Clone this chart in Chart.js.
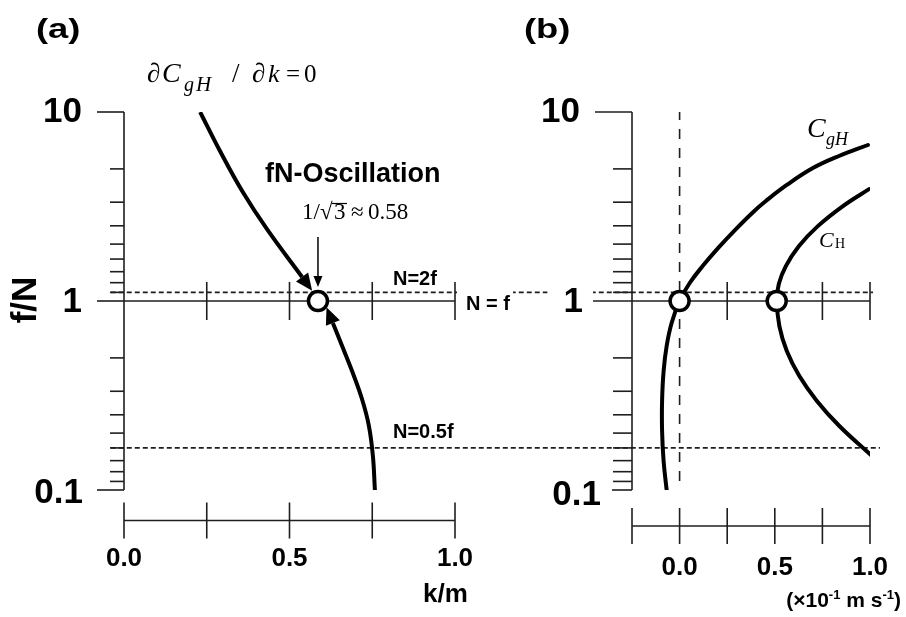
<!DOCTYPE html>
<html>
<head>
<meta charset="utf-8">
<script src="https://cdn.jsdelivr.net/npm/chart.js@4.4.1/dist/chart.umd.min.js"></script>
<style>
  html, body { margin: 0; padding: 0; background: #fff; }
  #wrap { position: relative; width: 906px; height: 617px; }
  #wrap canvas { position: absolute; left: 0; top: 0; }
</style>
</head>
<body>
<div id="wrap">
  <canvas id="panelA" width="906" height="617"></canvas>
  <canvas id="panelB" width="906" height="617"></canvas>
</div>
<script>
// f/N axis (shared by both panels)
const fTicksMajor = [0.1, 1, 10];
const fTickLabels = ['0.1', '1', '10'];
const fTicksMinor = [0.111, 0.125, 0.143, 0.167, 0.2, 0.25, 0.333, 0.5,
                     1.111, 1.25, 1.429, 1.667, 2, 2.5, 3.333, 5];

// (a) k/m axis
const kTicks = [0, 0.25, 0.5, 0.75, 1];
const kLabelValues = [0, 0.5, 1];
const kLabels = ['0.0', '0.5', '1.0'];
const kCross = [0.25, 0.5, 0.75, 1];

// (a) dCgH/dk = 0 curve, two branches running into the fN point
const upperK = [0.23, 0.29, 0.357, 0.432, 0.538];
const upperF = [10, 6.22, 3.82, 2.40, 1.34];
const lowerK = [0.758, 0.752, 0.740, 0.719, 0.689, 0.659, 0.631];
const lowerF = [0.1, 0.151, 0.218, 0.303, 0.426, 0.578, 0.765];
const fnPointK = [0.586];
const fnPointF = [1];

// reference lines (f/N levels and their extent in k)
const unityK = [0, 1];
const n2fLevel = 1.111;
const n2fK = [-0.04, 2.263];
const nHalfLevel = 0.167;
const nHalfK = [-0.04, 2.284];

// (b) speed axis (x10^-1 m/s)
const cTicks = [-0.25, 0, 0.25, 0.5, 0.75, 1];
const cLabelValues = [0, 0.5, 1];
const cLabels = ['0.0', '0.5', '1.0'];
const cCross = [0.25, 0.75, 1];

// (b) group velocity CgH and phase speed CH
const cghC = [-0.068, -0.084, -0.092, -0.092, -0.084, -0.068, -0.042, 0, 0.053, 0.121,
              0.203, 0.292, 0.387, 0.453, 0.563, 0.70, 0.837, 0.989];
const cghF = [0.1, 0.142, 0.205, 0.296, 0.426, 0.578, 0.765, 1, 1.245, 1.53,
              1.91, 2.38, 2.96, 3.38, 4.11, 5.05, 5.85, 6.69];
const chC = [0.995, 0.858, 0.726, 0.626, 0.558, 0.521, 0.511, 0.524, 0.563, 0.629, 0.721, 0.839, 1.005];
const chF = [3.91, 3.18, 2.49, 1.95, 1.53, 1.23, 1.0, 0.737, 0.544, 0.401, 0.296, 0.218, 0.153];
const crossC = [0, 0.51];
const crossF = [1, 1];
const unityC = [-0.25, 1];
const zeroLineC = [0, 0];
const zeroLineF = [0.1116, 10];

const SANS = '"Liberation Sans", Arial, sans-serif';
const SERIF = '"Liberation Serif", "Times New Roman", serif';
const AXIS = '#1e1e1e';

function pts(xs, ys) {
    return xs.map((x, i) => ({ x: x, y: ys[i] }));
}

function seg(ctx, x1, y1, x2, y2) {
    ctx.beginPath();
    ctx.moveTo(x1, y1);
    ctx.lineTo(x2, y2);
    ctx.stroke();
}

function arrowHead(ctx, bx, by, ux, uy, len, wid) {
    const px = -uy, py = ux;
    ctx.beginPath();
    ctx.moveTo(bx + ux * len, by + uy * len);
    ctx.lineTo(bx + px * wid / 2, by + py * wid / 2);
    ctx.lineTo(bx - px * wid / 2, by - py * wid / 2);
    ctx.closePath();
    ctx.fill();
}

// per panel axis styling
const panelStyle = {
    panelA: { ticks: kTicks, labelValues: kLabelValues, labels: kLabels, cross: kCross,
              majorLen: [27, 27, 27], minorLen: 14, labelGap: [14, 15, 15], labelShift: [3, 1, 0],
              xAxisGap: 30.5, tickHalf: 18, xLabelBase: 45, crossHalf: 19, mask: false },
    panelB: { ticks: cTicks, labelValues: cLabelValues, labels: cLabels, cross: cCross,
              majorLen: [20, 39, 37], minorLen: 19, labelGap: [11, 10, 15], labelShift: [5, 1, 0],
              xAxisGap: 36, tickHalf: 18, xLabelBase: 49, crossHalf: 19, mask: true }
};

// panel letters are wide and heavy in the original, so stretch them a bit
function panelLetter(ctx, text, x) {
    ctx.save();
    ctx.translate(x, 38);
    ctx.scale(1.3, 1);
    ctx.font = 'bold 28px ' + SANS;
    ctx.fillText(text, 0, 0);
    ctx.restore();
}

function textA(chart) {
    const ctx = chart.ctx;
    const xs = chart.scales.x, ys = chart.scales.y;
    ctx.fillStyle = '#000';
    ctx.textAlign = 'left';
    ctx.textBaseline = 'alphabetic';

    panelLetter(ctx, '(a)', 36);

    // dCgH / dk = 0
    ctx.font = '27px ' + SERIF;
    ctx.fillText('\u2202', 147, 82);
    ctx.font = 'italic 28px ' + SERIF;
    ctx.fillText('C', 162, 82);
    ctx.font = 'italic 20px ' + SERIF;
    ctx.fillText('g', 184, 91);
    ctx.font = 'italic 21px ' + SERIF;
    ctx.fillText('H', 196, 91);
    ctx.font = '27px ' + SERIF;
    ctx.fillText('/', 232, 82);
    ctx.fillText('\u2202', 252, 82);
    ctx.font = 'italic 26px ' + SERIF;
    ctx.fillText('k', 268, 82);
    ctx.font = '25px ' + SERIF;
    ctx.fillText('=', 286, 82);
    ctx.fillText('0', 304, 82);

    ctx.font = 'bold 27px ' + SANS;
    ctx.fillText('fN-Oscillation', 265, 182);

    // 1/sqrt(3) ~ 0.58
    ctx.font = '23px ' + SERIF;
    ctx.fillText('1/', 302, 219);
    ctx.fillText('\u221A', 320, 219);
    ctx.fillText('3', 334, 219);
    ctx.fillText('\u2248', 351, 219);
    ctx.fillText('0.58', 368, 219);
    ctx.strokeStyle = '#000';
    ctx.lineWidth = 1.2;
    seg(ctx, 332, 203.5, 347, 203.5);

    // pointer to the fN point
    const px = xs.getPixelForValue(fnPointK[0]);
    const py = ys.getPixelForValue(fnPointF[0]);
    ctx.lineWidth = 1.5;
    seg(ctx, px, 237, px, py - 24);
    arrowHead(ctx, px, py - 25, 0, 1, 11, 9);

    ctx.font = 'bold 20px ' + SANS;
    ctx.fillText('N=2f', 393, 285);
    ctx.fillText('N=0.5f', 393, 438);

    ctx.fillStyle = '#fff';
    ctx.fillRect(457, 284, 56, 30);
    ctx.fillStyle = '#000';
    ctx.fillText('N = f', 466, 310);

    ctx.font = 'bold 26px ' + SANS;
    ctx.fillText('k/m', 423, 602);

    ctx.save();
    ctx.translate(26, 300);
    ctx.rotate(-Math.PI / 2);
    ctx.font = 'bold 35px ' + SANS;
    ctx.textAlign = 'center';
    ctx.textBaseline = 'middle';
    ctx.fillText('f/N', 0, 0);
    ctx.restore();
}

function textB(chart) {
    const ctx = chart.ctx;
    ctx.fillStyle = '#000';
    ctx.textAlign = 'left';
    ctx.textBaseline = 'alphabetic';

    panelLetter(ctx, '(b)', 524);

    ctx.font = 'italic 28px ' + SERIF;
    ctx.fillText('C', 807, 137);
    ctx.font = 'italic 18px ' + SERIF;
    ctx.fillText('gH', 826, 145);

    ctx.font = 'italic 22px ' + SERIF;
    ctx.fillText('C', 819, 247);
    ctx.font = '14px ' + SERIF;
    ctx.fillText('H', 835, 248);

    // (x10^-1 m s^-1)
    const parts = [
        { t: '(\u00D710', f: 'bold 21px ' + SANS, dy: 0 },
        { t: '-1', f: 'bold 13px ' + SANS, dy: -8 },
        { t: ' m s', f: 'bold 21px ' + SANS, dy: 0 },
        { t: '-1', f: 'bold 13px ' + SANS, dy: -8 },
        { t: ')', f: 'bold 21px ' + SANS, dy: 0 }
    ];
    let w = 0;
    parts.forEach(p => { ctx.font = p.f; p.w = ctx.measureText(p.t).width; w += p.w; });
    let cx = 901 - w;
    parts.forEach(p => { ctx.font = p.f; ctx.fillText(p.t, cx, 607 + p.dy); cx += p.w; });
}

const panelText = { panelA: textA, panelB: textB };

const decor = {
    id: 'decor',
    beforeDatasetsDraw(chart) {
        const o = panelStyle[chart.canvas.id];
        const ctx = chart.ctx, a = chart.chartArea;
        const xs = chart.scales.x, ys = chart.scales.y;
        ctx.save();
        ctx.strokeStyle = AXIS;
        ctx.lineWidth = 1.6;
        seg(ctx, a.left, a.top, a.left, a.bottom);
        fTicksMajor.forEach((v, i) => {
            const py = ys.getPixelForValue(v);
            seg(ctx, a.left - o.majorLen[i], py, a.left, py);
        });
        fTicksMinor.forEach(v => {
            const py = ys.getPixelForValue(v);
            seg(ctx, a.left - o.minorLen, py, a.left, py);
        });
        const axY = a.bottom + o.xAxisGap;
        seg(ctx, xs.getPixelForValue(o.ticks[0]), axY, xs.getPixelForValue(o.ticks[o.ticks.length - 1]), axY);
        o.ticks.forEach(v => {
            const px = xs.getPixelForValue(v);
            seg(ctx, px, axY - o.tickHalf, px, axY + o.tickHalf);
        });
        const p1 = ys.getPixelForValue(1);
        o.cross.forEach(v => {
            const px = xs.getPixelForValue(v);
            seg(ctx, px, p1 - o.crossHalf, px, p1 + o.crossHalf);
        });
        ctx.restore();
    },
    afterDatasetDraw(chart, args) {
        const ds = chart.data.datasets[args.index];
        if (!ds.arrowEnd) return;
        const p = args.meta.data;
        const b = p[p.length - 1], q = p[p.length - 2];
        let ux = b.x - q.x, uy = b.y - q.y;
        const d = Math.hypot(ux, uy);
        ux /= d; uy /= d;
        chart.ctx.save();
        chart.ctx.fillStyle = '#000';
        arrowHead(chart.ctx, b.x, b.y, ux, uy, 17, 15);
        chart.ctx.restore();
    },
    afterDatasetsDraw(chart) {
        const o = panelStyle[chart.canvas.id];
        const ctx = chart.ctx, a = chart.chartArea;
        const xs = chart.scales.x, ys = chart.scales.y;
        ctx.save();
        // f/N tick labels
        ctx.font = 'bold 35px ' + SANS;
        ctx.textAlign = 'right';
        ctx.textBaseline = 'middle';
        fTicksMajor.forEach((v, i) => {
            const right = a.left - o.majorLen[i] - o.labelGap[i];
            const py = ys.getPixelForValue(v) + o.labelShift[i];
            if (o.mask) {
                const w = ctx.measureText(fTickLabels[i]).width;
                ctx.fillStyle = '#fff';
                ctx.fillRect(right - w - 16, py - 15, a.left - o.majorLen[i] - (right - w - 16), 28);
            }
            ctx.fillStyle = '#000';
            ctx.fillText(fTickLabels[i], right, py);
        });
        // x tick labels
        ctx.font = 'bold 26px ' + SANS;
        ctx.textAlign = 'center';
        ctx.textBaseline = 'alphabetic';
        const axY = a.bottom + o.xAxisGap;
        o.labelValues.forEach((v, i) => {
            ctx.fillText(o.labels[i], xs.getPixelForValue(v), axY + o.xLabelBase);
        });
        panelText[chart.canvas.id](chart);
        ctx.restore();
    }
};

const lineStyle = { showLine: true, pointRadius: 0, borderColor: '#000', borderWidth: 4,
                    tension: 0.4, borderCapStyle: 'round' };
const refStyle = { showLine: true, pointRadius: 0, borderColor: AXIS, borderWidth: 1.6, clip: false };
const ringStyle = { showLine: false, pointRadius: 9.5, pointBackgroundColor: '#fff',
                    pointBorderColor: '#000', pointBorderWidth: 3.5 };

function baseOptions(padding, xMin, xMax) {
    return {
        responsive: false,
        animation: false,
        events: [],
        layout: { padding: padding },
        plugins: { legend: { display: false }, tooltip: { enabled: false } },
        scales: {
            x: { type: 'linear', min: xMin, max: xMax, display: false },
            y: { type: 'logarithmic', min: 0.1, max: 10, display: false }
        }
    };
}

new Chart(document.getElementById('panelA'), {
    type: 'scatter',
    data: {
        datasets: [
            Object.assign({ label: 'fN point', data: pts(fnPointK, fnPointF) }, ringStyle),
            Object.assign({ label: 'upper', data: pts(upperK, upperF), arrowEnd: true }, lineStyle, { borderCapStyle: 'butt' }),
            Object.assign({ label: 'lower', data: pts(lowerK, lowerF), arrowEnd: true }, lineStyle, { borderCapStyle: 'butt' }),
            Object.assign({ label: 'N = f', data: pts(unityK, [1, 1]) }, refStyle),
            Object.assign({ label: 'N=2f', data: pts(n2fK, [n2fLevel, n2fLevel]), borderDash: [5, 3] }, refStyle),
            Object.assign({ label: 'N=0.5f', data: pts(nHalfK, [nHalfLevel, nHalfLevel]), borderDash: [5, 3] }, refStyle)
        ]
    },
    options: baseOptions({ left: 124, right: 451, top: 112, bottom: 127 }, 0, 1),
    plugins: [decor]
});

new Chart(document.getElementById('panelB'), {
    type: 'scatter',
    data: {
        datasets: [
            Object.assign({ label: 'crossings', data: pts(crossC, crossF) }, ringStyle),
            Object.assign({ label: 'CgH', data: pts(cghC, cghF) }, lineStyle),
            Object.assign({ label: 'CH', data: pts(chC, chF) }, lineStyle),
            Object.assign({ label: 'N = f', data: pts(unityC, [1, 1]) }, refStyle),
            Object.assign({ label: 'zero', data: pts(zeroLineC, zeroLineF), borderDash: [10, 9], borderWidth: 2 }, refStyle)
        ]
    },
    options: baseOptions({ left: 632, right: 36, top: 112, bottom: 127 }, -0.25, 1),
    plugins: [decor]
});
</script>
</body>
</html>
